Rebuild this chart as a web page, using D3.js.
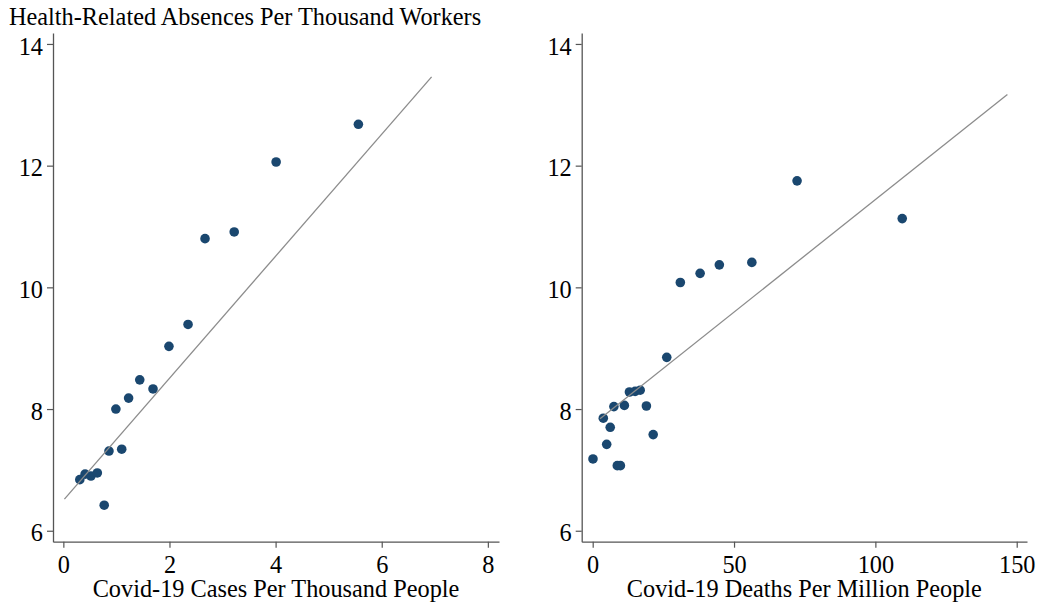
<!DOCTYPE html>
<html>
<head>
<meta charset="utf-8">
<script src="https://cdn.jsdelivr.net/npm/d3@7"></script>
<style>
  html, body { margin: 0; padding: 0; background: #fff; }
  svg { display: block; }
  text { font-family: "Liberation Serif", "Times New Roman", serif; fill: #000; }
</style>
</head>
<body>
<svg id="chart" width="1038" height="605"></svg>
<script>
// ---- Data ----
const yTitle = "Health-Related Absences Per Thousand Workers";
const yTicks = [6, 8, 10, 12, 14];

const casesTitle = "Covid-19 Cases Per Thousand People";
const casesTicks = [0, 2, 4, 6, 8];
const casesX = [0.31, 0.41, 0.52, 0.64, 0.77, 0.86, 0.99, 1.10, 1.23, 1.44, 1.69, 1.99, 2.35, 2.67, 3.22, 4.01, 5.56];
const casesY = [6.84, 6.93, 6.90, 6.95, 6.42, 7.31, 8.00, 7.34, 8.18, 8.48, 8.33, 9.03, 9.39, 10.80, 10.91, 12.06, 12.68];
const casesFitX = [0.02, 6.94];
const casesFitY = [6.52, 13.46];

const deathsTitle = "Covid-19 Deaths Per Million People";
const deathsTicks = [0, 50, 100, 150];
const deathsX = [0.1, 3.75, 4.95, 6.2, 7.5, 8.7, 9.8, 11.2, 13.0, 15.0, 16.8, 19.0, 21.4, 26.2, 31.0, 38.0, 44.8, 56.3, 72.3, 109.5];
const deathsY = [7.18, 7.85, 7.42, 7.70, 8.04, 7.07, 7.07, 8.06, 8.28, 8.29, 8.31, 8.05, 7.58, 8.85, 10.08, 10.23, 10.37, 10.41, 11.75, 11.13];
const deathsFitX = [2.6, 146.7];
const deathsFitY = [7.84, 13.17];

// ---- Layout ----
const svg = d3.select("#chart");
const dotColor = "#1a476f";
const lineColor = "#8c8c8c";
const axisColor = "#555555";
const fontSize = 24.3;

const yScale = d3.scaleLinear().domain([5.82, 14.18]).range([541.7, 33]);

const panels = [
  { xs: casesX, ys: casesY, fx: casesFitX, fy: casesFitY, ticks: casesTicks, title: casesTitle,
    x: d3.scaleLinear().domain([-0.195, 8.21]).range([53, 499]), left: 53 },
  { xs: deathsX, ys: deathsY, fx: deathsFitX, fy: deathsFitY, ticks: deathsTicks, title: deathsTitle,
    x: d3.scaleLinear().domain([-3.89, 153.64]).range([581.7, 1027]), left: 581.7 }
];

const xAxisY = 541.7;

panels.forEach(p => {
  // Y axis
  const gy = svg.append("g").attr("transform", `translate(${p.left},0)`)
    .call(d3.axisLeft(yScale).tickValues(yTicks).tickSize(6).tickSizeOuter(0).tickPadding(4).tickFormat(d3.format("d")));
  gy.attr("font-family", null).attr("font-size", null);
  gy.select(".domain").attr("stroke", axisColor).attr("stroke-width", 1.3);
  gy.selectAll(".tick line").attr("stroke", axisColor).attr("stroke-width", 1.2);
  gy.selectAll(".tick text").attr("font-size", fontSize).attr("fill", "#000").attr("dy", "0.42em");

  // X axis
  const gx = svg.append("g").attr("transform", `translate(0,${xAxisY})`)
    .call(d3.axisBottom(p.x).tickValues(p.ticks).tickSize(6).tickSizeOuter(0).tickPadding(8).tickFormat(d3.format("d")));
  gx.attr("font-family", null).attr("font-size", null);
  gx.select(".domain").attr("stroke", axisColor).attr("stroke-width", 1.3);
  gx.selectAll(".tick line").attr("stroke", axisColor).attr("stroke-width", 1.2);
  gx.selectAll(".tick text").attr("font-size", fontSize).attr("fill", "#000");

  // X title
  const r = p.x.range();
  svg.append("text")
    .attr("x", (r[0] + r[1]) / 2)
    .attr("y", 597)
    .attr("text-anchor", "middle")
    .attr("font-size", fontSize)
    .text(p.title);

  // Points
  svg.append("g").selectAll("circle")
    .data(p.xs.map((v, i) => [v, p.ys[i]]))
    .join("circle")
    .attr("cx", d => p.x(d[0]))
    .attr("cy", d => yScale(d[1]))
    .attr("r", 4.8)
    .attr("fill", dotColor);

  // Fit line
  svg.append("path")
    .datum(p.fx.map((v, i) => [v, p.fy[i]]))
    .attr("d", d3.line().x(d => p.x(d[0])).y(d => yScale(d[1])))
    .attr("fill", "none")
    .attr("stroke", lineColor)
    .attr("stroke-width", 1.3);
});

// Y title (top-left)
svg.append("text")
  .attr("x", 9)
  .attr("y", 25)
  .attr("font-size", fontSize)
  .text(yTitle);
</script>
</body>
</html>
